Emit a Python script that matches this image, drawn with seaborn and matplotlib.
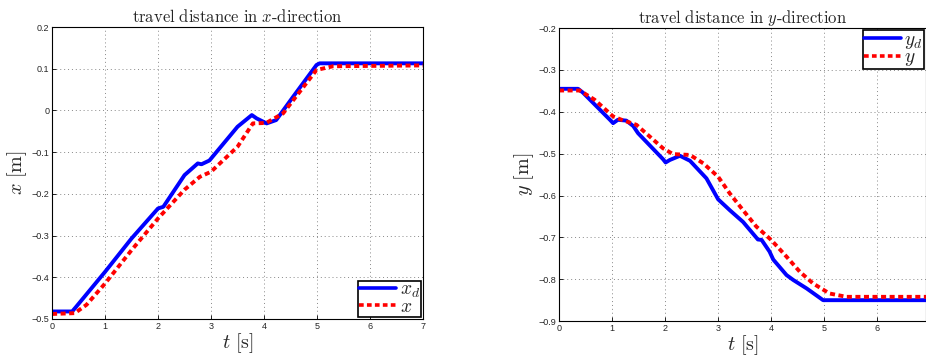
"""Travel distance in x and y direction: desired vs. actual."""

import matplotlib

matplotlib.use("Agg")
import pandas as pd
import seaborn as sns
from matplotlib import pyplot as plt

# x-direction, desired (x_d)
t_xd = [0.0, 0.38, 0.46, 1.0, 1.5, 2.0, 2.1, 2.5, 2.75, 2.82, 2.97, 3.5, 3.77, 3.86,
        4.05, 4.23, 4.55, 4.99, 5.05, 7.0]
x_d = [-0.482, -0.482, -0.470, -0.387, -0.307, -0.235, -0.231, -0.155, -0.127, -0.129,
       -0.120, -0.039, -0.011, -0.019, -0.031, -0.023, 0.033, 0.109, 0.113, 0.113]
# x-direction, actual (x)
t_x = [0.0, 0.43, 0.65, 1.0, 1.5, 2.0, 2.5, 2.79, 3.0, 3.5, 3.79, 4.04, 4.36, 4.99,
       5.3, 7.0]
x_act = [-0.488, -0.486, -0.466, -0.415, -0.335, -0.259, -0.190, -0.159, -0.147, -0.087,
         -0.031, -0.030, -0.007, 0.097, 0.106, 0.108]

# y-direction, desired (y_d)
t_yd = [0.0, 0.36, 0.45, 0.96, 1.02, 1.11, 1.27, 1.4, 1.49, 1.96, 2.01, 2.09, 2.28, 2.47,
        2.78, 3.0, 3.22, 3.47, 3.75, 3.82, 3.97, 4.04, 4.29, 4.42, 4.67, 4.98, 7.0]
y_d = [-0.345, -0.345, -0.354, -0.419, -0.427, -0.419, -0.421, -0.434, -0.451, -0.513,
       -0.521, -0.515, -0.505, -0.517, -0.559, -0.609, -0.635, -0.663, -0.705, -0.706,
       -0.734, -0.753, -0.790, -0.802, -0.822, -0.850, -0.850]
# y-direction, actual (y)
t_y = [0.0, 0.39, 0.67, 1.02, 1.18, 1.46, 1.71, 1.96, 2.15, 2.47, 2.72, 3.0, 3.22, 3.47,
       3.72, 4.0, 4.29, 4.54, 4.79, 5.1, 5.42, 7.0]
y_act = [-0.349, -0.349, -0.371, -0.411, -0.419, -0.431, -0.459, -0.487, -0.501, -0.503,
         -0.523, -0.555, -0.595, -0.635, -0.674, -0.706, -0.746, -0.782, -0.810, -0.834,
         -0.842, -0.842]

x_ticks_left = [0, 1, 2, 3, 4, 5, 6, 7]
x_ticks_right = [0, 1, 2, 3, 4, 5, 6]
x_yticks = [0.2, 0.1, 0.0, -0.1, -0.2, -0.3, -0.4, -0.5]
x_yticklabels = ["0.2", "0.1", "0", "\u22120.1", "\u22120.2", "\u22120.3", "\u22120.4", "\u22120.5"]
y_yticks = [-0.2, -0.3, -0.4, -0.5, -0.6, -0.7, -0.8, -0.9]
y_yticklabels = ["\u22120.2", "\u22120.3", "\u22120.4", "\u22120.5", "\u22120.6", "\u22120.7",
                 "\u22120.8", "\u22120.9"]

sns.set_style("ticks")
plt.rcParams["mathtext.fontset"] = "cm"
plt.rcParams["font.family"] = ["Liberation Sans", "DejaVu Sans"]

df_x = pd.concat([
    pd.DataFrame({"t": t_xd, "v": x_d, "s": "$x_d$"}),
    pd.DataFrame({"t": t_x, "v": x_act, "s": "$x$"}),
])
df_y = pd.concat([
    pd.DataFrame({"t": t_yd, "v": y_d, "s": "$y_d$"}),
    pd.DataFrame({"t": t_y, "v": y_act, "s": "$y$"}),
])

fig = plt.figure(figsize=(9.26, 3.56), dpi=100)
ax1 = fig.add_axes([0.0562, 0.104, 0.4006, 0.820])
ax2 = fig.add_axes([0.6037, 0.098, 0.3963, 0.823])


def draw(ax, df, names, xticks, yticks, yticklabels, ylim, xlim, ylabel, title, legend_loc):
    sns.lineplot(data=df, x="t", y="v", hue="s", style="s", ax=ax,
                 palette={names[0]: "#0000ff", names[1]: "#ff0000"},
                 dashes={names[0]: "", names[1]: (1.3, 0.9)},
                 linewidth=2.8, legend=False)
    ax.set_xlim(*xlim)
    ax.set_ylim(*ylim)
    ax.set_xticks(xticks)
    ax.set_xticklabels([str(v) for v in xticks])
    ax.set_yticks(yticks)
    ax.set_yticklabels(yticklabels)
    ax.tick_params(direction="in", labelsize=6.5, length=3, width=0.6, pad=2, color="black")
    ax.grid(True, linestyle=(0, (1, 3)), color="#888888", linewidth=0.7)
    for sp in ax.spines.values():
        sp.set_color("black")
        sp.set_linewidth(0.8)
    ax.set_xlabel(r"$t\ [\mathrm{s}]$", fontsize=14.5, labelpad=0)
    ax.set_ylabel(ylabel, fontsize=14.5, labelpad=2)
    ax.set_title(title, fontsize=12, pad=4)
    handles = [plt.Line2D([], [], color="#0000ff", linewidth=2.6),
               plt.Line2D([], [], color="#ff0000", linewidth=2.6, dashes=(1.3, 0.9))]
    leg = ax.legend(handles, names, loc=legend_loc, fontsize=14, frameon=True, fancybox=False,
                    handlelength=1.9, handletextpad=0.2, borderpad=0.05, labelspacing=-0.1,
                    borderaxespad=0.1, edgecolor="black", framealpha=1)
    leg.get_frame().set_linewidth(1.2)


draw(ax1, df_x, ["$x_d$", "$x$"], x_ticks_left, x_yticks, x_yticklabels, (-0.5, 0.2), (0, 7),
     r"$x\ [\mathrm{m}]$", r"$\mathrm{travel\ distance\ in\ }x\mathrm{\text{-}direction}$",
     "lower right")
draw(ax2, df_y, ["$y_d$", "$y$"], x_ticks_right, y_yticks, y_yticklabels, (-0.9, -0.2), (0, 6.92),
     r"$y\ [\mathrm{m}]$", r"$\mathrm{travel\ distance\ in\ }y\mathrm{\text{-}direction}$",
     "upper right")

fig.savefig("out.png", dpi=100)
